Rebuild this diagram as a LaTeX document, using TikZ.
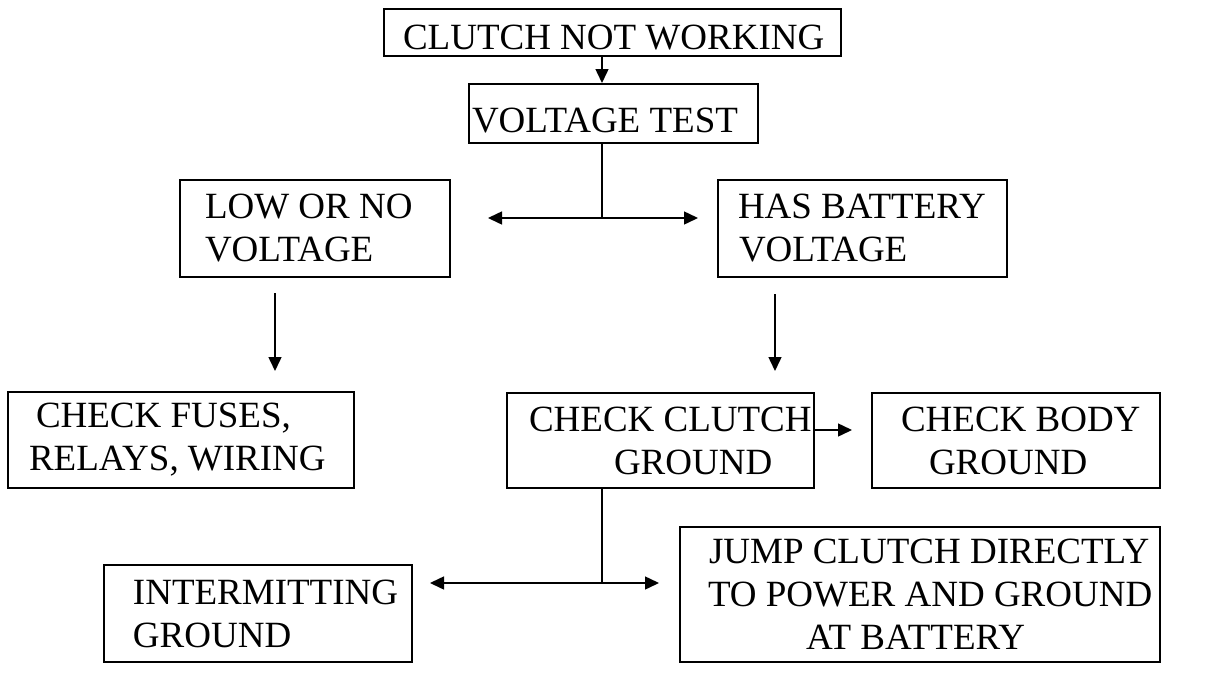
\documentclass[tikz,border=0pt]{standalone}
\usepackage{fontspec}
\setmainfont{Liberation Serif}
\usetikzlibrary{arrows.meta}
\newdimen\fcpx \fcpx=0.5pt
\newcommand\fcline[3]{\makebox[#1\fcpx][l]{\hspace*{#2\fcpx}#3}}
\begin{document}
\begin{tikzpicture}[x=0.5pt,y=-0.5pt,
  fcbox/.style={draw, line width=1pt, rectangle, inner sep=0pt, anchor=north west,
    align=left, font=\fontsize{18.5}{21.5}\selectfont},
  arr/.style={line width=0.75pt, -{Triangle[length=7pt,width=6.5pt]}},
  ln/.style={line width=0.75pt}]
\useasboundingbox (0,0) rectangle (1207,675);

\node[fcbox, minimum width=228.5pt, minimum height=23.5pt, text height=20pt, text depth=3.5pt]
  (b1) at (383,8) {\fcline{457}{19}{CLUTCH NOT WORKING}};
\node[fcbox, minimum width=144.5pt, minimum height=29.5pt, text height=24.25pt, text depth=5.25pt]
  (b2) at (468,83) {\fcline{289}{3}{VOLTAGE TEST}};
\node[fcbox, minimum width=135pt, minimum height=48.5pt]
  (b3) at (179,179) {\fcline{270}{25}{LOW OR NO}\\\fcline{270}{25}{VOLTAGE}};
\node[fcbox, minimum width=144.5pt, minimum height=48.5pt]
  (b4) at (717,179) {\fcline{289}{20}{HAS BATTERY}\\\fcline{289}{21}{VOLTAGE}};
\node[fcbox, minimum width=173pt, minimum height=48pt]
  (b5) at (7,391) {\fcline{346}{28}{CHECK FUSES,}\\\fcline{346}{21}{RELAYS, WIRING}};
\node[fcbox, minimum width=153.5pt, minimum height=47.5pt]
  (b6) at (506,392) {\fcline{307}{22}{CHECK CLUTCH}\\\fcline{307}{107}{GROUND}};
\node[fcbox, minimum width=144pt, minimum height=47.5pt]
  (b7) at (871,392) {\fcline{288}{29}{CHECK BODY}\\\fcline{288}{57}{GROUND}};
\node[fcbox, minimum width=154pt, minimum height=48.5pt]
  (b8) at (103,564) {\fcline{308}{29}{INTERMITTING}\\\fcline{308}{29}{GROUND}};
\node[fcbox, minimum width=240pt, minimum height=67.5pt]
  (b9) at (679,526) {\fcline{480}{29}{JUMP CLUTCH DIRECTLY}\\\fcline{480}{28}{TO POWER AND GROUND}\\\fcline{480}{126}{AT BATTERY}};

\coordinate (vx) at (602,0);
\draw[arr] (b1.south -| vx) -- (b2.north -| vx);

\coordinate (j1) at (602,218);
\coordinate (t1l) at (488,218);
\coordinate (t1r) at (698,218);
\draw[ln] (b2.south -| j1) -- (j1);
\draw[arr] (j1) -- (t1l);
\draw[arr] (j1) -- (t1r);

\coordinate (s3) at (275,293);
\coordinate (e3) at (275,371);
\draw[arr] (s3) -- (e3);

\coordinate (s4) at (775,294);
\coordinate (e4) at (775,371);
\draw[arr] (s4) -- (e4);

\coordinate (e6) at (852,430);
\draw[arr] (b6.east |- e6) -- (e6);

\coordinate (j2) at (602,583);
\coordinate (t2l) at (430,583);
\coordinate (t2r) at (659,583);
\draw[ln] (b6.south -| j2) -- (j2);
\draw[arr] (j2) -- (t2l);
\draw[arr] (j2) -- (t2r);
\end{tikzpicture}
\end{document}
